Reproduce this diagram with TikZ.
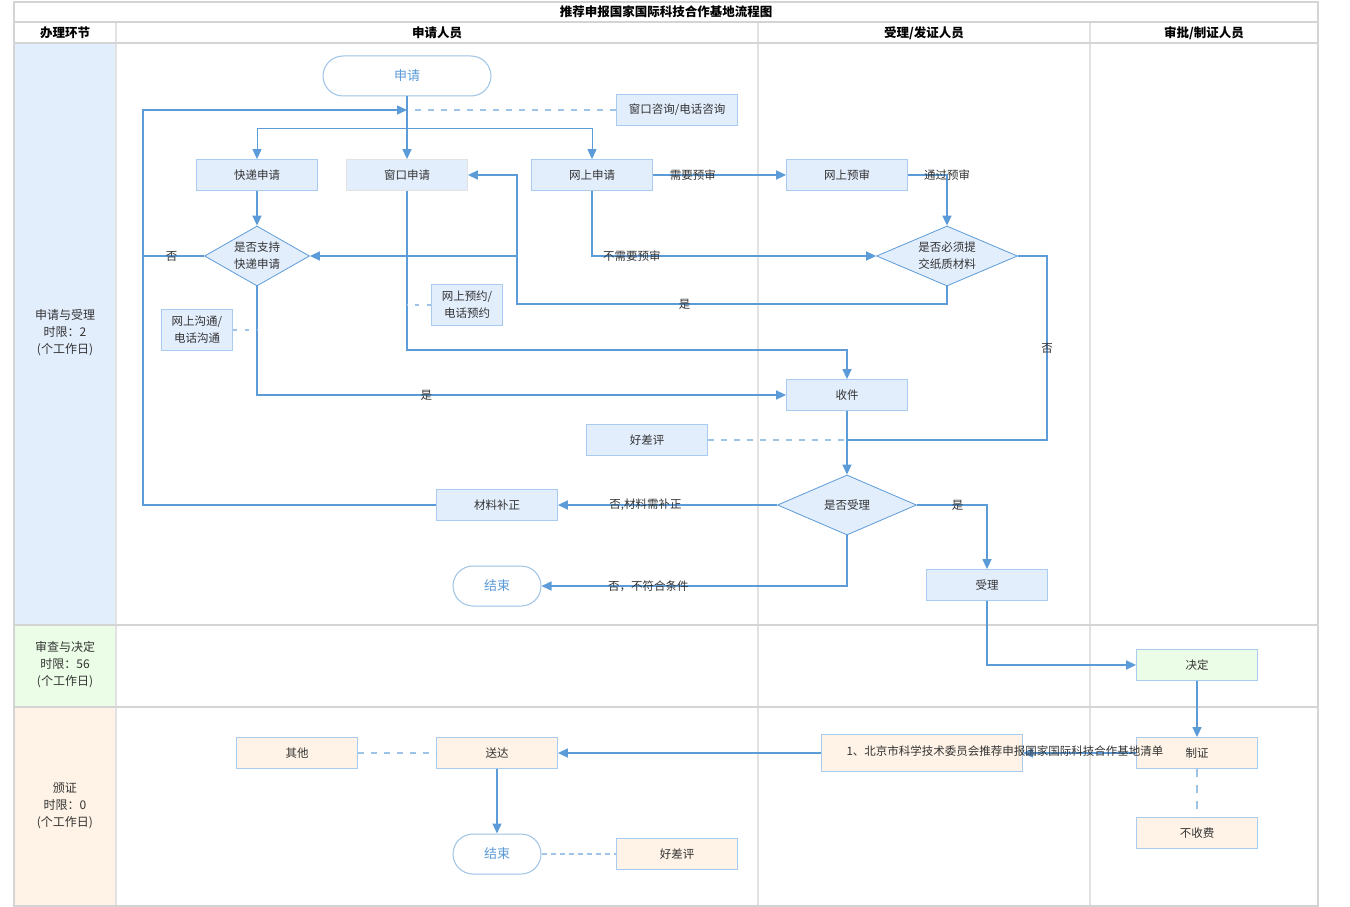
\documentclass[tikz,border=0pt]{standalone}
\usepackage{fontspec}
\setmainfont{Noto Sans CJK SC}
\usetikzlibrary{shapes.geometric, arrows.meta, positioning}
\definecolor{flowblue}{HTML}{5B9BD8}
\definecolor{noteblue}{HTML}{9DC3E6}
\definecolor{boxedge}{HTML}{A9CBEF}
\definecolor{boxblue}{HTML}{E3EEFD}
\definecolor{boxgreen}{HTML}{EBFDE6}
\definecolor{boxorange}{HTML}{FEF3E6}
\definecolor{gridgrey}{HTML}{D4D4D4}
\definecolor{lanegrey}{HTML}{E2E2E2}
\definecolor{txtgrey}{HTML}{333333}

\begin{document}
\begin{tikzpicture}[x=1pt, y=-1pt, >={Triangle[length=10pt,width=9pt]},
    font=\fontsize{11.5}{17}\selectfont, text=txtgrey,
    box/.style={draw=boxedge, fill=boxblue, line width=0.8pt, minimum width=121pt, minimum height=31pt, inner sep=0pt, align=center},
    decision/.style={diamond, draw=flowblue, fill=boxblue, line width=0.8pt, inner sep=0pt, shape aspect=1.9, align=center},
    terminal/.style={draw=noteblue, fill=white, line width=1pt, rounded corners=20pt, minimum height=40pt, inner sep=0pt, text=flowblue, font=\fontsize{13}{17}\selectfont},
    flow/.style={draw=flowblue, line width=1.4pt},
    note/.style={draw=noteblue, line width=1.4pt, dash pattern=on 6pt off 7pt},
    lbl/.style={inner sep=1pt}]
        \useasboundingbox (0,0) rectangle (1350,907);

        % Lanes and phases
        \fill[boxblue] (14,43) rectangle (116,625);
        \fill[boxgreen] (14,625) rectangle (116,707);
        \fill[boxorange] (14,707) rectangle (116,906);
        \foreach \x in {116,758,1090}
            \draw[lanegrey, line width=1.6pt] (\x,22) -- (\x,906);
        \foreach \y in {22,43,625,707}
            \draw[gridgrey, line width=1.6pt] (14,\y) -- (1318,\y);
        \draw[gridgrey, line width=1.6pt] (14,2) rectangle (1318,906);

        % Headers
        \node[font=\fontsize{12.5}{15}\selectfont\bfseries, text=black] (title) at (666,12) {推荐申报国家国际科技合作基地流程图};
        \node[font=\fontsize{12.5}{15}\selectfont\bfseries, text=black] (hphase) at (65,33) {办理环节};
        \node[font=\fontsize{12.5}{15}\selectfont\bfseries, text=black] (happ) at (437,33) {申请人员};
        \node[font=\fontsize{12.5}{15}\selectfont\bfseries, text=black] (hacc) at (924,33) {受理/发证人员};
        \node[font=\fontsize{12.5}{15}\selectfont\bfseries, text=black] (happr) at (1204,33) {审批/制证人员};
        \node[align=center, font=\fontsize{12}{17}\selectfont] (ph1) at (65,333) {申请与受理\\时限：2\\(个工作日)};
        \node[align=center, font=\fontsize{12}{17}\selectfont] (ph2) at (65,665) {审查与决定\\时限：56\\(个工作日)};
        \node[align=center, font=\fontsize{12}{17}\selectfont] (ph3) at (65,806) {颁证\\时限：0\\(个工作日)};

        % Phase 1
        \node[terminal, minimum width=168pt] (sq) at (407,76) {申请};
        \node[box] (zx) at (677,110) {窗口咨询/电话咨询};
        \node[box] (kd) at (257,175) {快递申请};
        \node[box, draw=lanegrey] (ck) at (407,175) {窗口申请};
        \node[box] (ws) at (592,175) {网上申请};
        \node[box] (ys) at (847,175) {网上预审};
        \node[decision, minimum width=105pt, minimum height=60pt] (zc) at (257,256) {是否支持\\快递申请};
        \node[decision, minimum width=141pt, minimum height=60pt] (zz) at (947,256) {是否必须提\\交纸质材料};
        \node[box, minimum width=71pt, minimum height=41pt] (yy) at (467,305) {网上预约/\\电话预约};
        \node[box, minimum width=71pt, minimum height=41pt] (gt) at (197,330) {网上沟通/\\电话沟通};
        \node[box] (sj) at (847,395) {收件};
        \node[box] (hp) at (647,440) {好差评};
        \node[decision, minimum width=139pt, minimum height=60pt] (sl) at (847,505) {是否受理};
        \node[box] (bz) at (497,505) {材料补正};
        \node[terminal, minimum width=88pt] (js) at (497,586) {结束};
        \node[box] (shl) at (987,585) {受理};

        % Phase 2 and 3
        \node[box, fill=boxgreen] (jd) at (1197,665) {决定};
        \node[box, fill=boxorange] (qd) at (922,753) [minimum width=201pt, minimum height=37pt] {};
        \node[box, fill=boxorange] (zhz) at (1197,753) {制证};
        \node[box, fill=boxorange] (bsf) at (1197,833) {不收费};
        \node[box, fill=boxorange] (sd) at (497,753) {送达};
        \node[box, fill=boxorange] (qt) at (297,753) {其他};
        \node[terminal, minimum width=88pt] (js2) at (497,854) {结束};
        \node[box, fill=boxorange] (hp2) at (677,854) {好差评};

        \coordinate (back) at (407,110);
        \coordinate (split) at (407,128);

        % Connectors
        \draw[note] (zx.west) -- (back);
        \draw[flow, ->] (sq.south) -- (ck.north);
        \draw[flow, line width=1pt, ->] (split) -| (kd.north);
        \draw[flow, line width=1pt, ->] (split) -| (ws.north);
        \draw[flow, ->] (bz.west) -- (143,505) -- (143,110) -- (back);
        \draw[flow] (zc.west) -- node[lbl, pos=0.53]{否} (143,256);
        \draw[flow, ->] (kd.south) -- (zc.north);
        \draw[flow, ->] (zc.south) |- node[lbl, pos=0.66]{是} (sj.west);
        \draw[note, dash pattern=on 4pt off 8pt] (gt.east) -- (257,330);
        \draw[flow, ->] (ck.south) -- (407,350) -| (sj.north);
        \draw[note, dash pattern=on 4pt off 8pt] (yy.west) -- (407,305);
        \draw[flow, ->] (ws.east) -- node[lbl, pos=0.3]{需要预审} (ys.west);
        \draw[flow, ->] (ys.east) -| node[lbl, pos=0.5]{通过预审} (zz.north);
        \draw[flow, ->] (ws.south) |- node[lbl, pos=0.57]{不需要预审} (zz.west);
        \draw[flow, ->] (zz.south) -- (947,304) -- node[lbl, pos=0.61]{是} (517,304) -- (517,175) -- (ck.east);
        \draw[flow, ->] (517,256) -- (zc.east);
        \draw[flow] (zz.east) -- (1047,256) -- node[lbl]{否} (1047,440) -- (847,440);
        \draw[note] (hp.east) -- (847,440);
        \draw[flow, ->] (sj.south) -- (sl.north);
        \draw[flow, ->] (sl.west) -- node[lbl, pos=0.6]{否,材料需补正} (bz.east);
        \draw[flow, ->] (sl.south) |- node[lbl, pos=0.825]{否，不符合条件} (js.east);
        \draw[flow, ->] (sl.east) -| node[lbl, pos=0.29]{是} (shl.north);
        \draw[flow, ->] (shl.south) |- (jd.west);
        \draw[flow, ->] (jd.south) -- (zhz.north);
        \draw[flow, ->] (zhz.west) -- (qd.east);
        \node[anchor=west] (qdtxt) at (843,751) {1、北京市科学技术委员会推荐申报国家国际科技合作基地清单};
        \draw[note, dash pattern=on 8pt off 8pt] (zhz.south) -- (bsf.north);
        \draw[flow, ->] (qd.west) -- (sd.east);
        \draw[note] (qt.east) -- (sd.west);
        \draw[flow, ->] (sd.south) -- (js2.north);
        \draw[note, dash pattern=on 5pt off 4pt] (js2.east) -- (hp2.west);
\end{tikzpicture}
\end{document}
